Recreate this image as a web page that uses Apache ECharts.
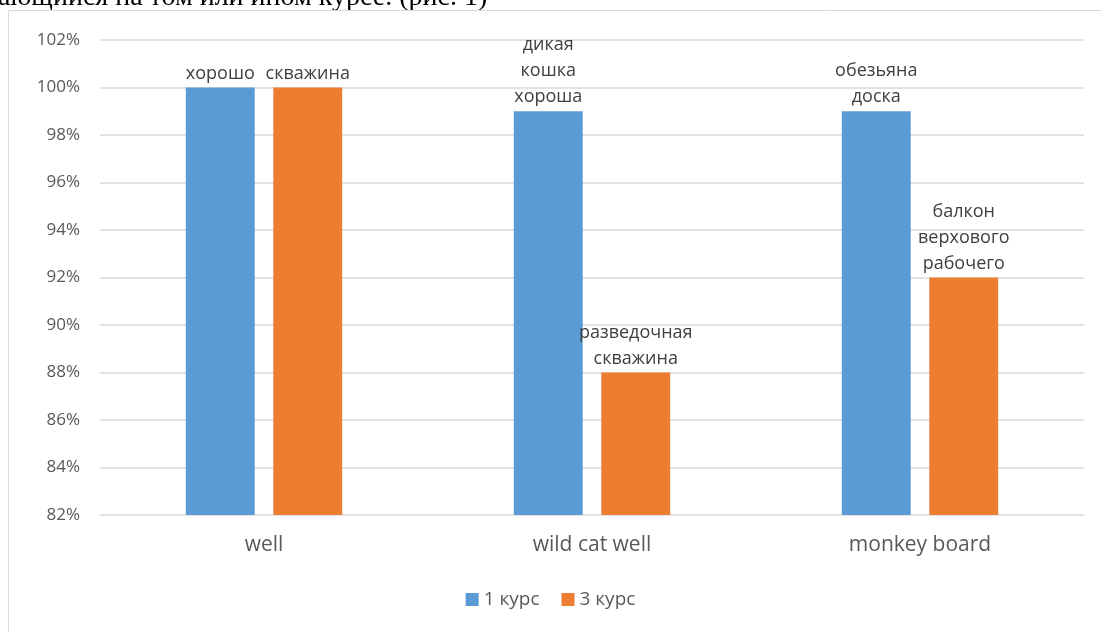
<!DOCTYPE html>
<html><head><meta charset="utf-8">
<script src="https://cdn.jsdelivr.net/npm/echarts@6/dist/echarts.min.js"></script>
<style>html,body{margin:0;padding:0;background:#fff}#c{width:1101px;height:632px}</style>
</head><body><div id="c"></div>
<script>
const categories = ['well', 'wild cat well', 'monkey board'];
const seriesNames = ['1 курс', '3 курс'];
const course1 = [100, 99, 99];
const course3 = [100, 88, 92];
const course1Labels = ['хорошо', 'дикая\nкошка\nхороша', 'обезьяна\nдоска'];
const course3Labels = ['скважина', 'разведочная\nскважина', 'балкон\nверхового\nрабочего'];
const yMin = 82, yMax = 102, yStep = 2;
const captionText = 'ающийся на том или ином курсе. (рис. 1)';

const FONT = '"Open Sans", sans-serif';
const chart = echarts.init(document.getElementById('c'));
function mk(vals, labels) {
  return vals.map((v, i) => ({ value: v, label: { formatter: labels[i] } }));
}
const labelStyle = { show: true, position: 'top', distance: 1, fontFamily: FONT, fontSize: 18, color: '#404040', lineHeight: 26 };
chart.setOption({
  animation: false,
  backgroundColor: '#fff',
  graphic: [
    { type: 'text', left: -2, top: -16, style: { text: captionText, font: '28px "Liberation Serif", serif', fill: '#000' } },
    { type: 'rect', shape: { x: 8.5, y: 10.5, width: 1200, height: 700 }, style: { fill: 'none', stroke: '#D9D9D9', lineWidth: 1 } }
  ],
  grid: { left: 100, right: 17, top: 40, bottom: 117, containLabel: false },
  legend: {
    data: seriesNames, bottom: 18, left: 'center', itemWidth: 13, itemHeight: 13, itemGap: 22,
    icon: 'rect', textStyle: { fontFamily: FONT, fontSize: 19, color: '#595959' }
  },
  xAxis: {
    type: 'category', data: categories,
    axisLine: { show: false }, axisTick: { show: false },
    axisLabel: { fontFamily: FONT, fontSize: 21, color: '#595959', margin: 20 }
  },
  yAxis: {
    type: 'value', min: yMin, max: yMax, interval: yStep,
    axisLine: { show: false }, axisTick: { show: false },
    axisLabel: { formatter: '{value}%', fontFamily: FONT, fontSize: 17, color: '#595959', margin: 20 },
    splitLine: { lineStyle: { color: '#D9D9D9', width: 1.5 } }
  },
  series: [
    { name: seriesNames[0], type: 'bar', data: mk(course1, course1Labels), barWidth: '21%', barGap: '27%',
      itemStyle: { color: '#5B9BD5' }, label: labelStyle },
    { name: seriesNames[1], type: 'bar', data: mk(course3, course3Labels), barWidth: '21%',
      itemStyle: { color: '#ED7D31' }, label: labelStyle }
  ]
});
</script></body></html>
